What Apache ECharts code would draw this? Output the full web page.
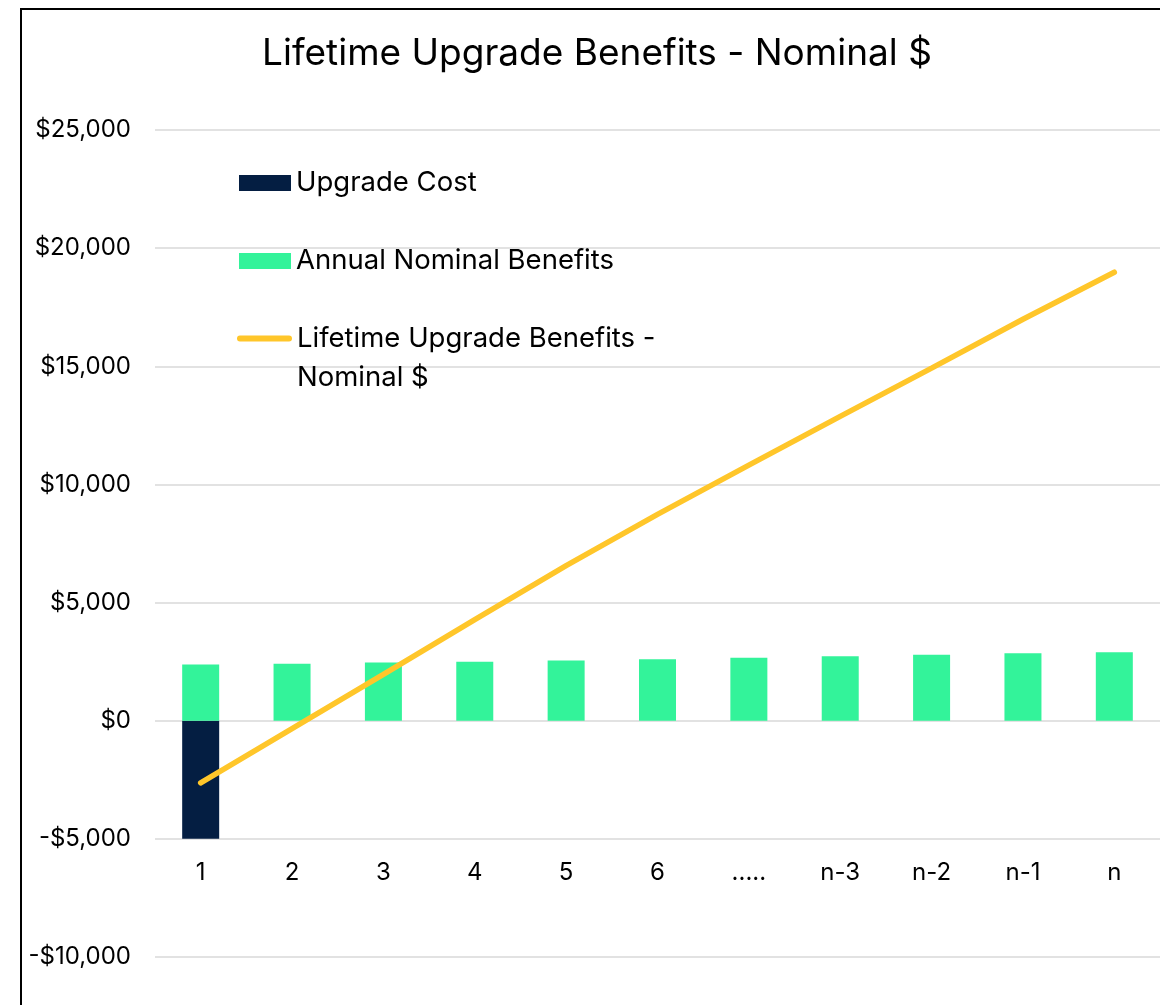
<!DOCTYPE html>
<html>
<head>
<meta charset="utf-8">
<script src="https://cdn.jsdelivr.net/npm/echarts@6/dist/echarts.min.js"></script>
<style>
    html, body { margin: 0; padding: 0; background: #fff; overflow: hidden; }
    #chart { position: absolute; left: 0; top: 0; width: 1160px; height: 1005px; }
    #frame { position: absolute; left: 20px; top: 8px; width: 1200px; height: 1100px;
             border: 2px solid #000; pointer-events: none; }
</style>
</head>
<body>
<div id="chart"></div>
<div id="frame"></div>
<script>
const categories = ["1", "2", "3", "4", "5", "6", ".....", "n-3", "n-2", "n-1", "n"];
const upgradeCost = [-5000, "-", "-", "-", "-", "-", "-", "-", "-", "-", "-"];
const annualBenefits = [2375, 2415, 2460, 2500, 2545, 2600, 2660, 2725, 2795, 2850, 2895];
const lifetimeBenefits = [-2627, -330, 1960, 4280, 6560, 8730, 10820, 12880, 14920, 16990, 18980];
const yTicks = {min: -10000, max: 25000, interval: 5000};

const FONT = "Inter";
const chart = echarts.init(document.getElementById("chart"));

const money = v => (v < 0 ? "-$" : "$") + Math.abs(v).toLocaleString("en-US");
const legendText = {fontFamily: FONT, fontSize: 27.5, color: "#000", lineHeight: 30};

chart.setOption({
    animation: false,
    title: {
        text: "Lifetime Upgrade Benefits - Nominal $",
        left: 262,
        top: 35,
        padding: 0,
        textStyle: {fontFamily: FONT, fontSize: 37, fontWeight: "normal", color: "#000"}
    },
    legend: [
        {
            data: [{name: "Upgrade Cost", icon: "rect"}], left: 239, top: 168, padding: 0,
            itemWidth: 52, itemHeight: 16, itemGap: 0,
            textStyle: legendText
        },
        {
            data: [{name: "Annual Nominal Benefits", icon: "rect"}], left: 239, top: 246, padding: 0,
            itemWidth: 52, itemHeight: 16, itemGap: 0,
            textStyle: legendText
        },
        {
            data: [{
                name: "Lifetime Upgrade Benefits - Nominal $",
                icon: "path://M3,0 H53 A3,3 0 0 1 53,6 H3 A3,3 0 0 1 3,0 Z"
            }],
            left: 237, top: 280, padding: 0,
            itemWidth: 55, itemHeight: 6, itemGap: 0,
            formatter: () => "\nLifetime Upgrade Benefits -\nNominal $",
            textStyle: Object.assign({}, legendText, {lineHeight: 39})
        }
    ],
    grid: {left: 155, right: 0, top: 130, bottom: 48, containLabel: false},
    xAxis: {
        type: "category",
        data: categories,
        offset: -118,
        axisLine: {show: false},
        axisTick: {show: false},
        axisLabel: {fontFamily: FONT, fontSize: 24, color: "#000", margin: 22}
    },
    yAxis: {
        type: "value",
        min: yTicks.min,
        max: yTicks.max,
        interval: yTicks.interval,
        axisLine: {show: false},
        axisTick: {show: false},
        axisLabel: {fontFamily: FONT, fontSize: 24, color: "#000", margin: 24, formatter: money},
        splitLine: {lineStyle: {color: "#d9d9d9", width: 1.5}}
    },
    series: [
        {
            name: "Upgrade Cost",
            type: "bar",
            stack: "total",
            barWidth: 37,
            data: upgradeCost,
            itemStyle: {color: "#041e42"}
        },
        {
            name: "Annual Nominal Benefits",
            type: "bar",
            stack: "total",
            barWidth: 37,
            data: annualBenefits,
            itemStyle: {color: "#33f39a"}
        },
        {
            name: "Lifetime Upgrade Benefits - Nominal $",
            type: "line",
            data: lifetimeBenefits,
            symbol: "none",
            lineStyle: {color: "#ffc62a", width: 5.5, cap: "round"},
            itemStyle: {color: "#ffc62a"},
            z: 5
        }
    ]
});
</script>
</body>
</html>
